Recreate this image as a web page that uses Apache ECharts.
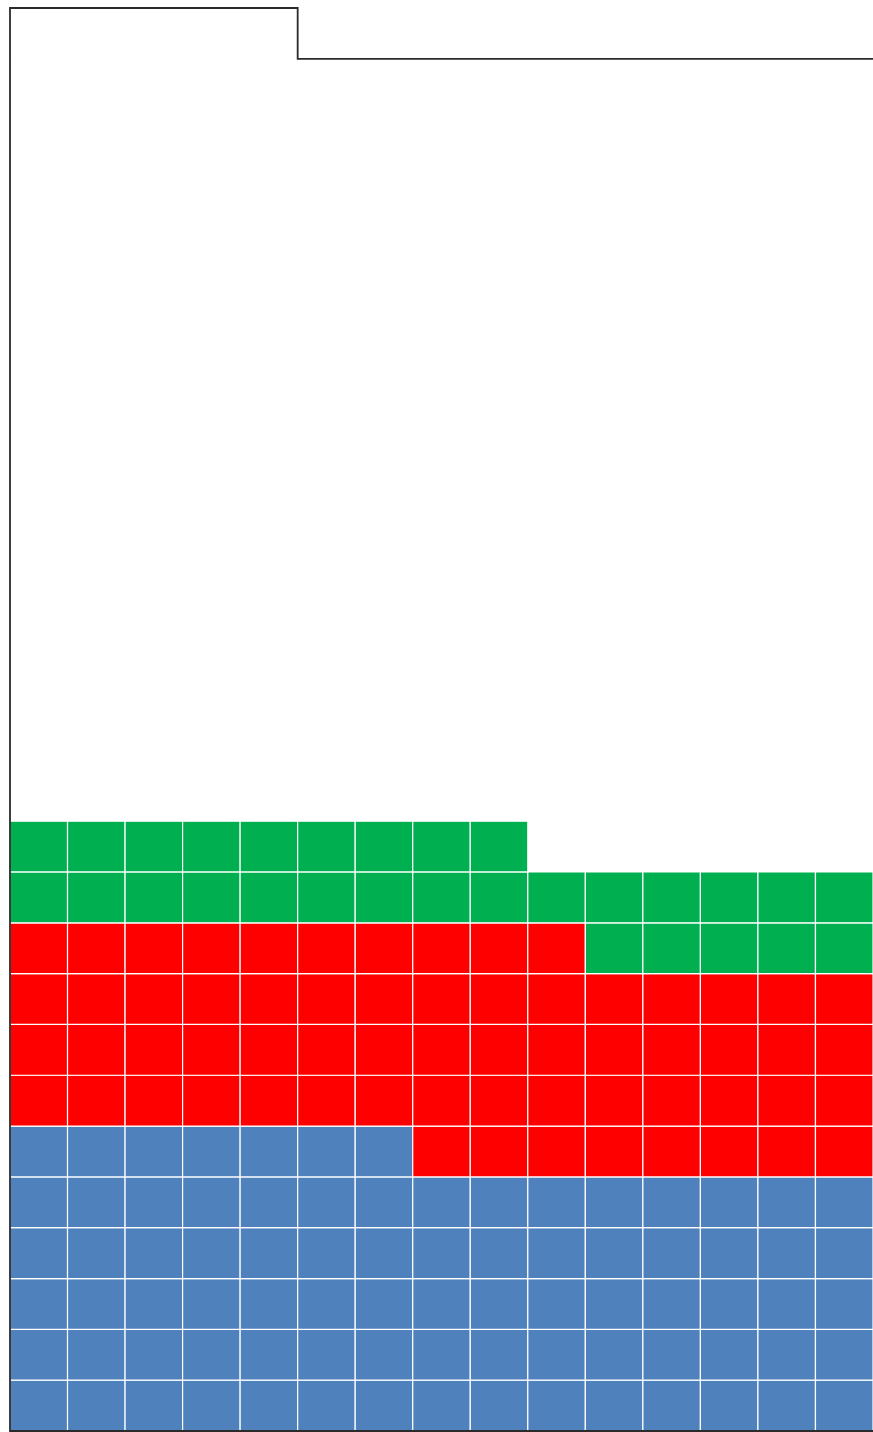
<!DOCTYPE html>
<html>
<head>
<meta charset="utf-8">
<script src="https://cdn.jsdelivr.net/npm/echarts@6/dist/echarts.min.js"></script>
<style>html,body{margin:0;padding:0;background:#fff;}#c{width:873px;height:1432px;}</style>
</head>
<body>
<div id="c"></div>
<script>
// Waffle data
var categories = ['Blue', 'Red', 'Green'];
var counts = [82, 63, 29];
var colors = ['#4F81BD', '#FF0000', '#00B050'];
var totalCells = 410;
var columns = 15;

var rows = Math.ceil(totalCells / columns);
var cells = [];
var idx = 0;
for (var k = 0; k < counts.length; k++) {
  for (var n = 0; n < counts[k]; n++) {
    cells.push([idx % columns, Math.floor(idx / columns), k]);
    idx++;
  }
}
// outline of total capacity (right edge extends just past the plot, cut off by the canvas)
var fullRows = Math.floor(totalCells / columns);
var rem = totalCells % columns;
var topRow = rem ? fullRows + 1 : fullRows;
var rightEdge = columns + 0.1;
var outline = [[0, 0], [0, topRow], [rem, topRow], [rem, fullRows], [rightEdge, fullRows], [rightEdge, 0]];

var chart = echarts.init(document.getElementById('c'));
chart.setOption({
  animation: false,
  grid: { left: 10, top: 8, width: 864, height: 1423 },
  xAxis: { type: 'value', min: 0, max: columns, show: false },
  yAxis: { type: 'value', min: 0, max: rows, show: false },
  series: [
    {
      type: 'custom',
      data: cells,
      clip: false,
      renderItem: function (params, api) {
        var c = api.value(0), r = api.value(1), k = api.value(2);
        var p0 = api.coord([c, r + 1]);
        var p1 = api.coord([c + 1, r]);
        return {
          type: 'rect',
          shape: { x: p0[0], y: p0[1], width: p1[0] - p0[0], height: p1[1] - p0[1] },
          style: { fill: colors[k], stroke: '#ffffff', lineWidth: 1.2 }
        };
      }
    },
    {
      type: 'custom',
      data: [0],
      clip: false,
      renderItem: function (params, api) {
        var pts = outline.map(function (p) { return api.coord(p); });
        return {
          type: 'polygon',
          shape: { points: pts },
          style: { fill: 'none', stroke: '#2b2b2b', lineWidth: 1.8 },
          z2: 10
        };
      },
      z: 5
    }
  ]
});
</script>
</body>
</html>
